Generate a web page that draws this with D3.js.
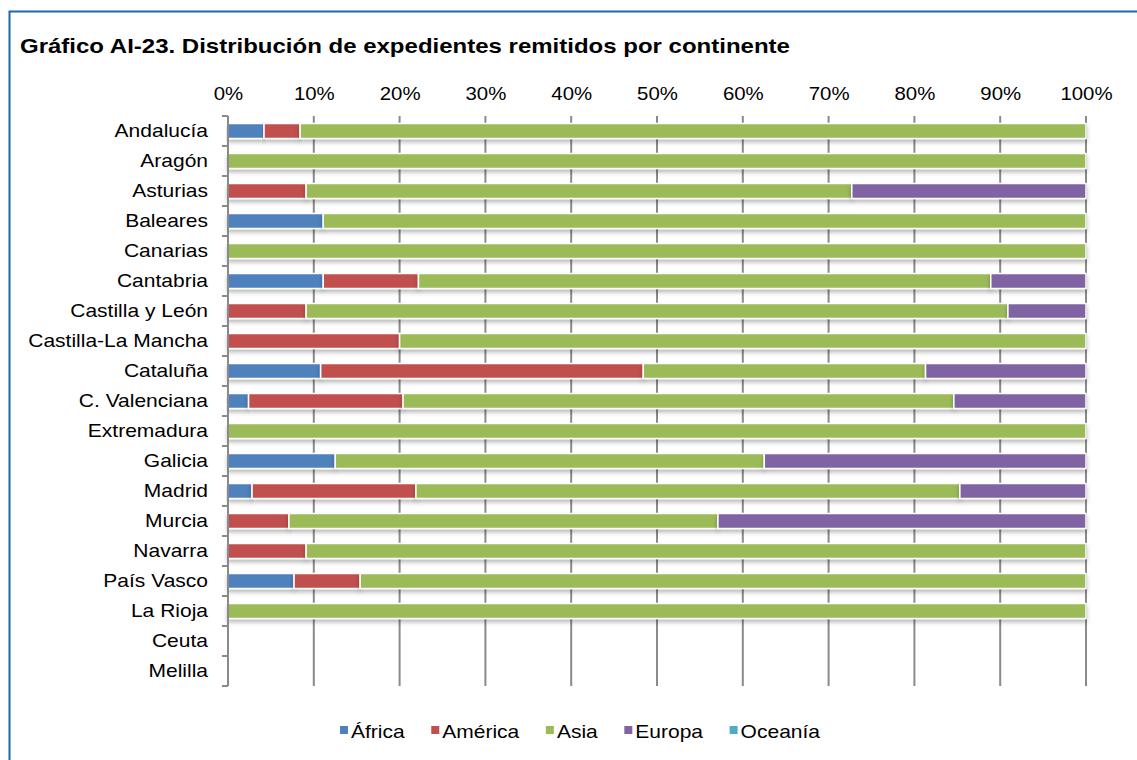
<!DOCTYPE html>
<html>
<head>
<meta charset="utf-8">
<script src="https://cdn.jsdelivr.net/npm/d3@7"></script>
<style>
  html, body { margin: 0; padding: 0; background: #fff; }
  svg { display: block; font-family: "Liberation Sans", Arial, sans-serif; }
</style>
</head>
<body>
<svg id="chart" width="1137" height="760"></svg>
<script>
const categories = ["Andalucía","Aragón","Asturias","Baleares","Canarias","Cantabria","Castilla y León","Castilla-La Mancha","Cataluña","C. Valenciana","Extremadura","Galicia","Madrid","Murcia","Navarra","País Vasco","La Rioja","Ceuta","Melilla"];
const seriesNames = ["África","América","Asia","Europa","Oceanía"];
const africa  = [4.2, 0, 0,    11.1, 0, 11.1, 0,   0,  10.8, 2.4,  0, 12.5, 2.8,  0,    0,   7.7, 0, 0, 0];
const america = [4.2, 0, 9.1,  0,    0, 11.1, 9.1, 20, 37.6, 18.0, 0, 0,    19.1, 7.1,  9.1, 7.7, 0, 0, 0];
const asia    = [91.6,100,63.6,88.9, 100,66.7,81.8,80, 32.9, 64.2, 100,50.0,63.4, 50.0, 90.9,84.6,100,0, 0];
const europa  = [0,   0, 27.3, 0,    0, 11.1, 9.1, 0,  18.7, 15.4, 0, 37.5, 14.7, 42.9, 0,   0,   0, 0, 0];
const oceania = [0,   0, 0,    0,    0, 0,    0,   0,  0,    0,    0, 0,    0,    0,    0,   0,   0, 0, 0];
const tickValues = [0,10,20,30,40,50,60,70,80,90,100];
const colors = ["#4F81BD","#C0504D","#9BBB59","#8064A2","#4BACC6"];

function stretch(k) {
  return sel => sel.each(function() {
    const w = this.getComputedTextLength();
    d3.select(this).attr("textLength", w * k).attr("lengthAdjust", "spacingAndGlyphs");
  });
}

const rows = categories.map((c,i) => ({cat:c, "África":africa[i], "América":america[i], "Asia":asia[i], "Europa":europa[i], "Oceanía":oceania[i]}));
const stacked = d3.stack().keys(seriesNames)(rows);

const svg = d3.select("#chart");
const x = d3.scaleLinear().domain([0,100]).range([228,1086]);
const y = d3.scaleBand().domain(categories).range([116,686]).paddingInner(0.5).paddingOuter(0.25);
const color = d3.scaleOrdinal().domain(seriesNames).range(colors);

// frame
svg.append("path").attr("d","M9.5,760 V11.5 H1137").attr("fill","none").attr("stroke","#1F66AA").attr("stroke-width",2);

// title
svg.append("text").attr("x",20).attr("y",53).attr("font-size",21).attr("font-weight","bold").attr("fill","#000")
  .text("Gráfico AI-23. Distribución de expedientes remitidos por continente").call(stretch(1.2*20/21));

// shadow filter
const defs = svg.append("defs");
const f = defs.append("filter").attr("id","shadow").attr("x","-5%").attr("y","-50%").attr("width","110%").attr("height","250%");
f.append("feDropShadow").attr("dx",0).attr("dy",3).attr("stdDeviation",2).attr("flood-color","#000").attr("flood-opacity",0.28);

// gridlines
svg.append("g").selectAll("line").data(tickValues.filter(d=>d>0)).join("line")
  .attr("x1",d=>x(d)).attr("x2",d=>x(d)).attr("y1",116).attr("y2",686)
  .attr("stroke","#8a8a8a").attr("stroke-width",2);

// top axis labels
const xAxis = d3.axisTop(x).tickValues(tickValues).tickFormat(d=>d+"%").tickSize(0).tickPadding(0);
const gx = svg.append("g").attr("transform","translate(0,100)").call(xAxis);
gx.select(".domain").remove();
gx.selectAll("text").attr("font-size",18.5).attr("fill","#000").attr("font-family","Liberation Sans, Arial, sans-serif").attr("dy",0).call(stretch(1.2*17/18.5));

// bars
const gBars = svg.append("g");
stacked.forEach((s,si) => {
  gBars.append("g").attr("fill", color(s.key)).selectAll("rect")
    .data(s.filter(d => d[1]-d[0] > 0)).join("rect")
    .attr("x", d => x(d[0])).attr("width", d => x(d[1]) - x(d[0]))
    .attr("y", d => y(d.data.cat)).attr("height", y.bandwidth())
    .attr("stroke","#fff").attr("stroke-width",1.5)
    .attr("filter","url(#shadow)");
});

// y axis
const yAxis = d3.axisLeft(y).tickSize(0).tickPadding(20);
const gy = svg.append("g").attr("transform","translate(228,0)").call(yAxis);
gy.select(".domain").remove();
gy.selectAll("text").attr("font-size",18.5).attr("fill","#000").attr("font-family","Liberation Sans, Arial, sans-serif").call(stretch(1.2*17.5/18.5));
svg.append("line").attr("x1",228).attr("x2",228).attr("y1",116).attr("y2",686).attr("stroke","#8a8a8a").attr("stroke-width",2);
const bounds = d3.range(categories.length+1).map(i => y.range()[0] + i*y.step());
svg.append("g").selectAll("line").data(bounds).join("line")
  .attr("x1",222).attr("x2",228).attr("y1",d=>d).attr("y2",d=>d)
  .attr("stroke","#8a8a8a").attr("stroke-width",2);

// legend
const legend = svg.append("g").attr("transform","translate(0,731)");
const items = seriesNames.map((n,i) => {
  const g = legend.append("g");
  g.append("rect").attr("x",0).attr("y",-5).attr("width",8).attr("height",8).attr("fill",colors[i]);
  const t = g.append("text").attr("x",11).attr("y",6.5).attr("font-size",18.5).attr("fill","#000").text(n);
  const w = t.node().getComputedTextLength() * 1.135;
  t.attr("textLength", w).attr("lengthAdjust","spacingAndGlyphs");
  return {g, w: 11 + w};
});
const total = d3.sum(items, d => d.w);
const gap = (820 - 340 - total) / (items.length - 1);
let lx = 340;
items.forEach(it => { it.g.attr("transform", `translate(${lx},0)`); lx += it.w + gap; });
</script>
</body>
</html>
